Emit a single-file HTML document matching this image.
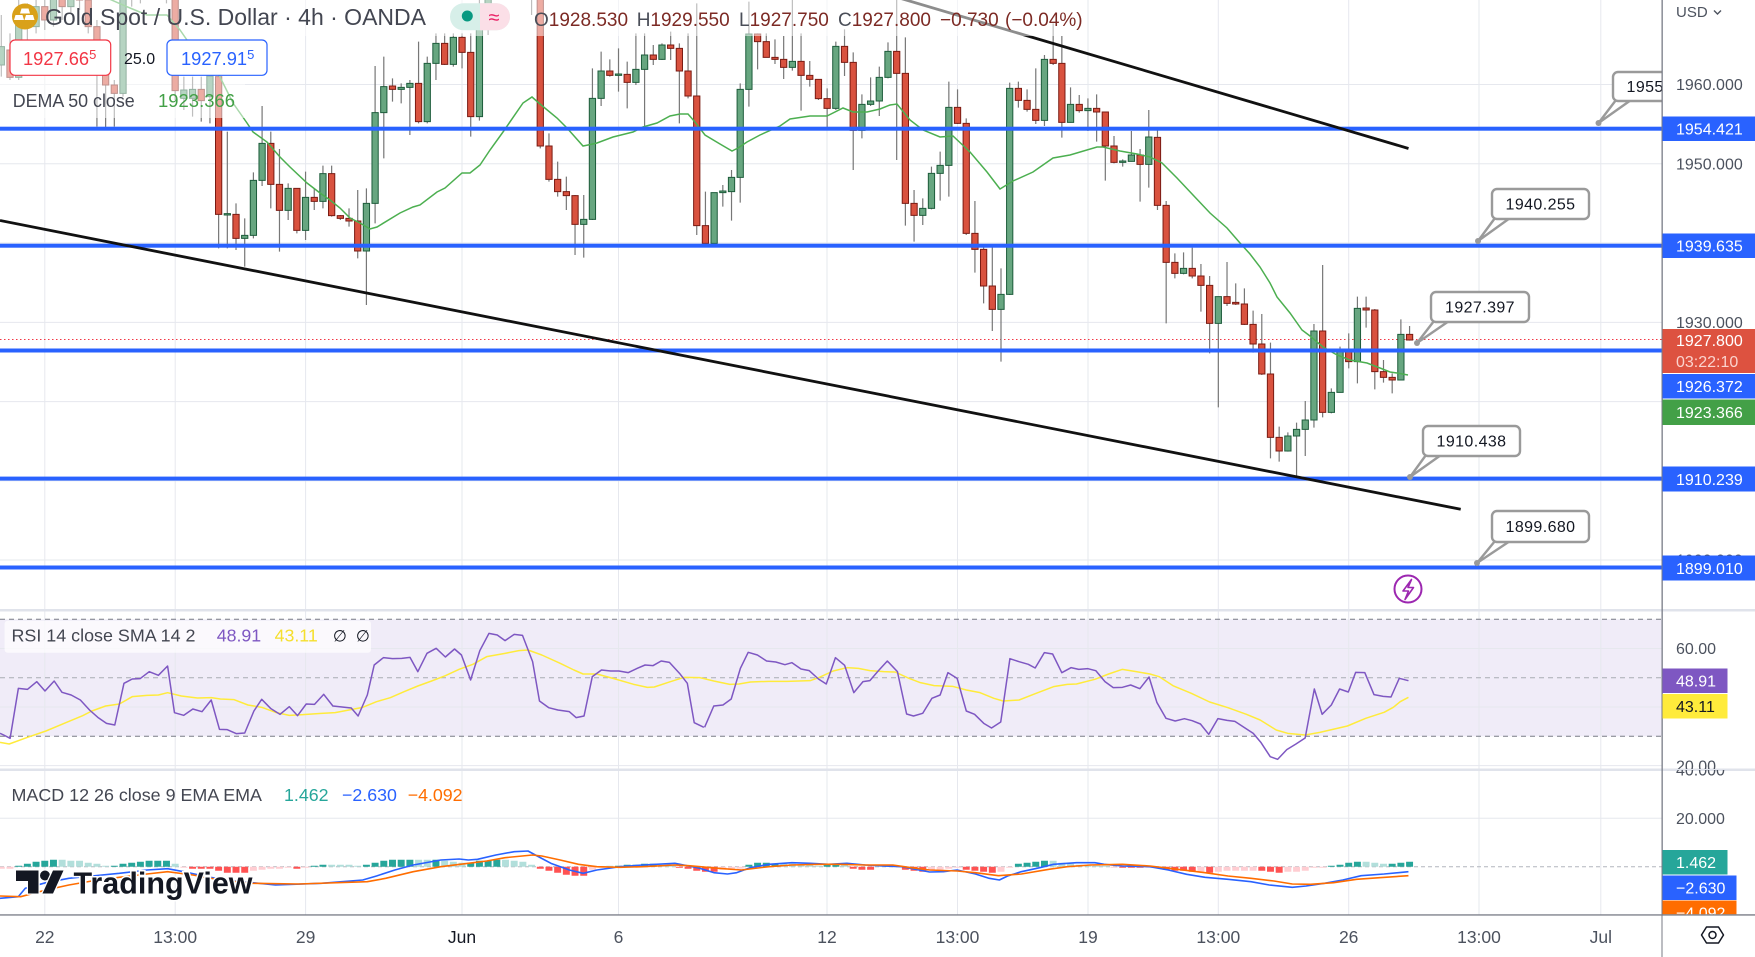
<!DOCTYPE html>
<html><head><meta charset="utf-8">
<style>
html,body{margin:0;padding:0;background:#fff;}
svg{display:block;font-family:"Liberation Sans",sans-serif;}
.ns{vector-effect:non-scaling-stroke}
</style></head><body>
<svg width="1755" height="957" viewBox="0 0 1755 957" xmlns="http://www.w3.org/2000/svg">
<defs>
<clipPath id="cRsiAx"><rect x="1662" y="610" width="93" height="159"/></clipPath>
<clipPath id="cMacdAx"><rect x="1662" y="770" width="93" height="145"/></clipPath>
</defs>
<rect width="1755" height="957" fill="#fff"/>
<!-- RSI band -->
<rect x="0" y="619.3" width="1662" height="117" fill="#f0ecf8"/>
<!-- grid -->
<g stroke="#e6e8ee" stroke-width="1">
<path d="M0 84.5H1662M0 163.8H1662M0 243H1662M0 322.4H1662M0 401.6H1662M0 480.8H1662M0 560H1662"/>
<path d="M0 648.5H1662M0 707H1662M0 765.6H1662M0 818.3H1662"/>
<path d="M44.8 0V915M175.2 0V915M305.6 0V915M462 0V915M618.5 0V915M827 0V915M957.5 0V915M1088 0V915M1218.3 0V915M1348.7 0V915M1479 0V915M1600.8 0V915"/>
</g>
<!-- RSI dashed levels -->
<path d="M0 619.3H1662M0 736.3H1662" stroke="#787b86" stroke-width="1" stroke-dasharray="5 4"/>
<path d="M0 677.8H1662" stroke="#a8abb3" stroke-width="1" stroke-dasharray="5 4"/>
<!-- MACD zero -->
<path d="M0 866.7H1662" stroke="#b2b5be" stroke-width="1" stroke-dasharray="4 3"/>
<!-- separators -->
<rect x="0" y="609" width="1755" height="2.5" fill="#e0e3eb"/>
<rect x="0" y="768.5" width="1755" height="2.5" fill="#e0e3eb"/>

<!-- red dotted price line -->
<path d="M0 339.5H1662" stroke="#f23645" stroke-width="1" stroke-dasharray="1.5 2.5"/>

<!-- candles -->
<g transform="translate(44.77,0) scale(8.693,0.333333)">
<path class="ns" fill="none" stroke="#777" stroke-width="1.2" d="M-5 45V230M-4 100V240M-3 0V240M-2 10V120M-1 0V100M0 -10V90M1 -40V80M2 -50V60M3 -80V40M4 -60V30M5 -20V100M6 60V380M7 200V388M8 240V380M9 -60V290M10 -80V20M11 -120V10M12 -110V0M13 -130V-20M14 -120V10M15 -40V300M16 230V330M17 230V350M18 230V365M19 200V370M20 225V745M21 395V745M22 610V750M23 655V800M24 517V715M25 318V558M26 395V625M27 447V755M28 550V660M29 565V700M30 515V720M31 565V630M32 497V625M33 497V650M34 645V660M35 625V680M36 570V775M37 565V915M38 198V670M39 170V475M40 235V305M41 250V310M42 240V405M43 125V370M44 170V370M45 100V240M46 100V195M47 100V200M48 100V205M49 100V410M50 -20V362M51 -100V105M52 -120V-20M53 -140V-30M54 -130V-10M55 -60V0M56 -40V45M57 -20V445M58 400V545M59 485V590M60 530V630M61 585V765M62 585V773M63 205V660M64 155V318M65 178V230M66 145V275M67 185V325M68 100V255M69 100V385M70 135V195M71 130V180M72 95V180M73 130V370M74 100V295M75 10V705M76 575V730M77 578V730M78 555V620M79 510V662M80 250V608M81 5V320M82 100V208M83 100V172M84 118V192M85 108V237M86 0V212M87 100V332M88 183V260M89 238V300M90 265V390M91 125V330M92 88V228M93 157V510M94 283V415M95 232V318M96 200V348M97 127V235M98 0V480M99 112V677M100 570V725M101 595V675M102 500V628M103 455V602M104 245V590M105 268V372M106 355V705M107 603V818M108 735V910M109 735V993M110 805V1085M111 248V885M112 245V323M113 268V335M114 205V372M115 165V378M116 70V195M117 108V413M118 262V368M119 285V338M120 295V393M121 283V425M122 336V542M123 408V490M124 478V500M125 393V485M126 447V605M127 330V563M128 388V630M129 603V970M130 760V835M131 757V823M132 743V835M133 792V935M134 828V1060M135 890V1222M136 786V918M137 850V915M138 865V975M139 932V1058M140 942V1125M141 1028V1375M142 1280V1385M143 1297V1355M144 1268V1435M145 1203V1368M146 972V1283M147 795V1252M148 1165V1240M149 1040V1178M150 1000V1105M151 890V1150M152 890V983M153 927V1168M154 1080V1148M155 1120V1180M156 958V1140M157 978V1022"/>
<path class="ns" fill="#67a680" stroke="#1d5c3b" stroke-width="1" d="M-5.36 140h.72v55h-.72zM-3.36 40h.72v192h-.72zM-1.36 20h.72v60h-.72zM.64 -10h.72v70h-.72zM2.64 -40h.72v60h-.72zM8.64 -40h.72v320h-.72zM10.64 -90h.72v80h-.72zM12.64 -100h.72v60h-.72zM15.64 270h.72v25h-.72zM16.64 268h.72v27h-.72zM18.64 228h.72v62h-.72zM20.64 641h.72v4h-.72zM22.64 706h.72v9h-.72zM23.64 541h.72v165h-.72zM24.64 430h.72v111h-.72zM27.64 565h.72v66h-.72zM29.64 592h.72v99h-.72zM31.64 521h.72v83h-.72zM36.64 610h.72v143h-.72zM37.64 338h.72v272h-.72zM38.64 260h.72v78h-.72zM40.64 262h.72v6h-.72zM41.64 250h.72v12h-.72zM43.64 190h.72v175h-.72zM44.64 130h.72v60h-.72zM46.64 112h.72v81h-.72zM49.64 55h.72v295h-.72zM50.64 -60h.72v115h-.72zM52.64 -110h.72v60h-.72zM61.64 658h.72v15h-.72zM62.64 295h.72v363h-.72zM63.64 213h.72v82h-.72zM65.64 222h.72v4h-.72zM67.64 208h.72v39h-.72zM68.64 165h.72v43h-.72zM70.64 135h.72v43h-.72zM76.64 578h.72v152h-.72zM77.64 573h.72v5h-.72zM78.64 532h.72v43h-.72zM79.64 268h.72v264h-.72zM80.64 102h.72v166h-.72zM85.64 184h.72v18h-.72zM90.64 139h.72v186h-.72zM93.64 313h.72v78h-.72zM94.64 303h.72v10h-.72zM95.64 232h.72v71h-.72zM96.64 154h.72v78h-.72zM100.64 625h.72v21h-.72zM101.64 520h.72v105h-.72zM102.64 496h.72v24h-.72zM103.64 322h.72v174h-.72zM109.64 883h.72v45h-.72zM110.64 265h.72v618h-.72zM114.64 178h.72v183h-.72zM117.64 313h.72v54h-.72zM119.64 325h.72v7h-.72zM123.64 483h.72v4h-.72zM124.64 465h.72v19h-.72zM126.64 411h.72v82h-.72zM130.64 805h.72v15h-.72zM134.64 890h.72v80h-.72zM142.64 1308h.72v45h-.72zM143.64 1288h.72v20h-.72zM144.64 1260h.72v28h-.72zM145.64 993h.72v267h-.72zM147.64 1177h.72v60h-.72zM148.64 1050h.72v127h-.72zM150.64 925h.72v160h-.72zM155.64 1003h.72v137h-.72z"/>
<path class="ns" fill="#d9523f" stroke="#7a1b13" stroke-width="1" d="M-4.36 150h.72v82h-.72zM-2.36 40h.72v40h-.72zM-.36 20h.72v40h-.72zM1.64 -10h.72v30h-.72zM3.64 -40h.72v40h-.72zM4.64 0h.72v80h-.72zM5.64 80h.72v145h-.72zM6.64 225h.72v30h-.72zM7.64 255h.72v25h-.72zM9.64 -40h.72v30h-.72zM11.64 -90h.72v50h-.72zM13.64 -100h.72v80h-.72zM14.64 -20h.72v292h-.72zM17.64 268h.72v34h-.72zM19.64 230h.72v413h-.72zM21.64 643h.72v72h-.72zM25.64 430h.72v123h-.72zM26.64 553h.72v78h-.72zM28.64 565h.72v126h-.72zM30.64 592h.72v12h-.72zM32.64 521h.72v126h-.72zM33.64 647h.72v8h-.72zM34.64 655h.72v8h-.72zM35.64 663h.72v90h-.72zM39.64 258h.72v10h-.72zM42.64 250h.72v115h-.72zM45.64 130h.72v63h-.72zM47.64 112h.72v45h-.72zM48.64 157h.72v193h-.72zM51.64 -90h.72v40h-.72zM53.64 -110h.72v70h-.72zM54.64 -40h.72v30h-.72zM55.64 -20h.72v15h-.72zM56.64 -5h.72v443h-.72zM57.64 438h.72v100h-.72zM58.64 538h.72v37h-.72zM59.64 575h.72v12h-.72zM60.64 587h.72v86h-.72zM64.64 213h.72v13h-.72zM66.64 223h.72v24h-.72zM69.64 165h.72v13h-.72zM71.64 135h.72v10h-.72zM72.64 145h.72v68h-.72zM73.64 213h.72v75h-.72zM74.64 288h.72v389h-.72zM75.64 677h.72v53h-.72zM81.64 102h.72v23h-.72zM82.64 125h.72v47h-.72zM83.64 172h.72v6h-.72zM84.64 178h.72v24h-.72zM86.64 184h.72v42h-.72zM87.64 226h.72v12h-.72zM88.64 238h.72v58h-.72zM89.64 296h.72v29h-.72zM91.64 139h.72v48h-.72zM92.64 187h.72v204h-.72zM97.64 154h.72v66h-.72zM98.64 220h.72v390h-.72zM99.64 610h.72v36h-.72zM104.64 322h.72v48h-.72zM105.64 370h.72v330h-.72zM106.64 700h.72v48h-.72zM107.64 748h.72v110h-.72zM108.64 858h.72v70h-.72zM111.64 265h.72v36h-.72zM112.64 301h.72v27h-.72zM113.64 328h.72v33h-.72zM115.64 178h.72v12h-.72zM116.64 190h.72v177h-.72zM118.64 313h.72v19h-.72zM120.64 325h.72v11h-.72zM121.64 336h.72v102h-.72zM122.64 438h.72v49h-.72zM125.64 465h.72v28h-.72zM127.64 412h.72v204h-.72zM128.64 616h.72v171h-.72zM129.64 787h.72v33h-.72zM131.64 805h.72v23h-.72zM132.64 828h.72v28h-.72zM133.64 856h.72v114h-.72zM135.64 890h.72v20h-.72zM136.64 907h.72v5h-.72zM137.64 912h.72v61h-.72zM138.64 973h.72v59h-.72zM139.64 1032h.72v90h-.72zM140.64 1122h.72v190h-.72zM141.64 1312h.72v41h-.72zM146.64 993h.72v244h-.72zM149.64 1050h.72v35h-.72zM151.64 924h.72v6h-.72zM152.64 930h.72v185h-.72zM153.64 1115h.72v17h-.72zM154.64 1132h.72v8h-.72zM156.64 1003h.72v17h-.72z"/>
</g>

<!-- DEMA -->
<polyline fill="none" stroke="#4caf50" stroke-width="1.5" points="100,-5 130,8 147,15 167,15 180,30 187,40 213,63 220,77 233,103 247,123 253,132 267,142 280,157 290,167 307,183 320,193 330,200 340,208 350,218 360,223 370,229 377,227 400,213 413,207 420,205 437,192 445,188 462,173 470,173 480,165 490,150 503,132 523,103 532,97 540,104 557,118 567,128 583,146 588,145 597,143 613,137 633,132 643,127 657,123 670,116 680,114 688,114 695,122 705,135 720,144 732,151 738,148 747,142 760,135 780,126 790,119 810,116 827,116 843,108 853,112 867,112 880,109 890,105 897,104 910,120 923,130 940,137 953,136 970,152 987,172 1000,189 1013,181 1033,172 1053,158 1070,155 1097,147 1103,147 1120,151 1137,154 1150,157 1162,163 1177,178 1193,195 1210,213 1227,228 1240,243 1250,254 1260,267 1270,283 1277,297 1290,313 1302,330 1310,336 1323,347 1337,355 1350,360 1367,363 1380,368 1390,372 1397,373 1408,375"/>

<!-- blue horizontal levels -->
<g fill="#2962ff">
<rect x="0" y="126.7" width="1662" height="4"/>
<rect x="0" y="243.7" width="1662" height="4"/>
<rect x="0" y="348.5" width="1662" height="4"/>
<rect x="0" y="476.6" width="1662" height="4"/>
<rect x="0" y="565.5" width="1662" height="4"/>
</g>
<!-- trendlines -->
<line x1="880" y1="-7.7" x2="1408.5" y2="148.5" stroke="#111" stroke-width="2.8"/>
<line x1="0" y1="220.5" x2="1460.7" y2="509.3" stroke="#111" stroke-width="2.8"/>

<!-- callouts -->
<g stroke="#9a9a9a" stroke-width="2.4" fill="#fff" stroke-linejoin="round">
<polygon points="1616,100 1598.5,123 1631,100"/>
<rect x="1613" y="72" width="97" height="29" rx="5"/>
<polygon points="1495,218 1478,241 1510,218"/>
<rect x="1492" y="189" width="97" height="30" rx="5"/>
<polygon points="1434,321 1417,343 1449,321"/>
<rect x="1431" y="292" width="98" height="30" rx="5"/>
<polygon points="1426,455 1410,477 1441,455"/>
<rect x="1423" y="426" width="97" height="30" rx="5"/>
<polygon points="1495,541 1477,563 1510,541"/>
<rect x="1492" y="511" width="97" height="31" rx="5"/>
</g>
<g fill="#9a9a9a">
<circle cx="1598.5" cy="123" r="3"/><circle cx="1478" cy="241" r="3"/><circle cx="1417" cy="343" r="3"/><circle cx="1410" cy="477" r="3"/><circle cx="1477" cy="563" r="3"/>
</g>
<g font-size="16" fill="#131722" text-anchor="middle" letter-spacing="0.4">
<text x="1661.5" y="92">1955.000</text>
<text x="1540.5" y="209.5">1940.255</text>
<text x="1480" y="312.5">1927.397</text>
<text x="1471.5" y="446.5">1910.438</text>
<text x="1540.5" y="532">1899.680</text>
</g>

<!-- lightning icon -->
<circle cx="1408" cy="589" r="13.5" fill="#fff" stroke="#9c27b0" stroke-width="2"/>
<path d="M1411.5 579.5L1403 591H1408.5L1405 599.5L1413.5 587.5H1408Z" fill="none" stroke="#9c27b0" stroke-width="1.6" stroke-linejoin="round"/>

<!-- RSI lines -->
<g fill="none" stroke-width="1.5" stroke-linejoin="round">
<polyline class="ns" stroke="#ffeb3b" transform="translate(0,600) scale(0.45914,0.333333)" points="0,427 20,432 60,412 100,393 140,370 180,347 200,333 230,318 260,312 288,290 320,286 345,285 365,278 395,288 430,294 460,293 480,297 510,299 540,315 570,322 600,337 630,346 660,344 700,340 730,338 760,330 790,322 820,305 850,293 880,275 910,258 940,243 970,227 1000,208 1030,193 1060,170 1100,160 1130,152 1150,150 1180,165 1220,190 1250,210 1270,222 1300,222 1340,237 1380,253 1410,262 1425,261 1460,245 1490,232 1525,233"/>
<polyline class="ns" stroke="#ffeb3b" transform="translate(700,600) scale(0.45914,0.333333)" points="0,233 30,243 65,253 85,252 110,246 150,244 190,244 240,242 260,232 290,213 320,203 345,205 370,212 400,215 425,216 455,235 480,248 510,257 550,259 580,270 610,278 640,295 660,303 695,300 730,281 770,260 800,253 820,252 860,238 890,222 920,208 950,215 980,222 1000,230 1030,257 1070,280 1110,306 1150,323 1190,343 1220,360 1255,390 1280,400 1318,405 1350,397 1410,378 1450,355 1490,337 1510,322 1525,305 1543,292"/>
<polyline class="ns" stroke="#7e57c2" transform="translate(0,600) scale(0.45914,0.333333)" points="0,400 8,405 22,415 40,265 60,268 80,245 98,273 118,243 135,277 155,285 175,300 195,330 213,352 232,370 250,375 270,250 288,237 305,236 325,215 345,226 365,198 380,338 400,346 420,327 440,335 460,300 478,388 495,389 515,401 533,399 553,333 570,298 590,326 610,343 630,320 648,347 667,312 685,313 705,283 725,318 745,321 765,324 780,348 800,285 815,195 835,173 855,176 875,175 893,172 910,215 930,160 950,145 970,171 990,147 1005,165 1025,240 1045,152 1065,100 1083,105 1100,122 1120,103 1138,106 1160,185 1175,303 1195,323 1215,330 1240,335 1255,353 1272,348 1290,230 1310,210 1330,213 1348,213 1368,218 1388,205 1405,195 1422,197 1440,183 1458,187 1480,220 1497,250 1512,368 1533,382"/>
<polyline class="ns" stroke="#7e57c2" transform="translate(700,600) scale(0.45914,0.333333)" points="10,382 30,318 50,315 68,297 88,205 105,157 125,165 145,183 165,186 185,194 200,188 220,207 238,212 258,237 275,252 295,173 315,196 335,278 355,245 370,242 388,213 408,183 430,215 450,342 465,348 485,340 505,295 523,285 540,218 560,235 580,333 598,343 618,370 635,384 655,366 675,176 695,185 715,193 730,204 750,158 768,162 788,218 808,203 825,208 845,206 862,212 882,245 900,263 920,262 938,255 958,266 978,231 995,307 1015,355 1035,363 1055,356 1072,362 1090,372 1108,403 1128,356 1148,361 1165,364 1185,382 1205,400 1222,428 1242,470 1258,478 1278,449 1298,432 1318,414 1338,267 1355,343 1375,315 1393,267 1412,276 1428,217 1448,218 1468,284 1488,289 1505,291 1523,235 1543,242"/>
</g>

<!-- MACD histogram -->
<g transform="translate(44.77,866.7) scale(8.693,1)">
<path fill="#26a69a" d="M-3.4 0h.8v-1h-.8zM-2.4 0h.8v-3h-.8zM-1.4 0h.8v-5h-.8zM-.4 0h.8v-6h-.8zM.6 0h.8v-7h-.8zM7.6 0h.8v-1h-.8zM8.6 0h.8v-3h-.8zM9.6 0h.8v-4h-.8zM10.6 0h.8v-5h-.8zM11.6 0h.8v-6h-.8zM12.6 0h.8v-6h-.8zM13.6 0h.8v-6h-.8zM30.6 0h.8v-1h-.8zM31.6 0h.8v-2h-.8zM36.6 0h.8v-2h-.8zM37.6 0h.8v-4h-.8zM38.6 0h.8v-6h-.8zM39.6 0h.8v-7h-.8zM40.6 0h.8v-7h-.8zM41.6 0h.8v-7h-.8zM44.6 0h.8v-7h-.8zM48.6 0h.8v-4h-.8zM49.6 0h.8v-6h-.8zM50.6 0h.8v-6h-.8zM51.6 0h.8v-7h-.8zM65.6 0h.8v-1h-.8zM66.6 0h.8v-2h-.8zM67.6 0h.8v-2h-.8zM68.6 0h.8v-3h-.8zM69.6 0h.8v-3h-.8zM80.6 0h.8v-2h-.8zM81.6 0h.8v-4h-.8zM82.6 0h.8v-4h-.8zM83.6 0h.8v-3h-.8zM89.6 0h.8v-2h-.8zM90.6 0h.8v-3h-.8zM96.6 0h.8v-2h-.8zM111.6 0h.8v-3h-.8zM112.6 0h.8v-4h-.8zM113.6 0h.8v-5h-.8zM114.6 0h.8v-6h-.8zM147.6 0h.8v-1h-.8zM148.6 0h.8v-2h-.8zM149.6 0h.8v-4h-.8zM150.6 0h.8v-5h-.8zM154.6 0h.8v-3h-.8zM155.6 0h.8v-4h-.8zM156.6 0h.8v-5h-.8z"/>
<path fill="#b2dfdb" d="M1.6 0h.8v-7h-.8zM2.6 0h.8v-6h-.8zM3.6 0h.8v-6h-.8zM4.6 0h.8v-4h-.8zM5.6 0h.8v-3h-.8zM6.6 0h.8v-1h-.8zM14.6 0h.8v-3h-.8zM32.6 0h.8v-2h-.8zM33.6 0h.8v-2h-.8zM34.6 0h.8v-2h-.8zM35.6 0h.8v-1h-.8zM42.6 0h.8v-7h-.8zM43.6 0h.8v-7h-.8zM45.6 0h.8v-6h-.8zM46.6 0h.8v-5h-.8zM47.6 0h.8v-4h-.8zM52.6 0h.8v-7h-.8zM53.6 0h.8v-6h-.8zM54.6 0h.8v-5h-.8zM55.6 0h.8v-2h-.8zM64.6 0h.8v-1h-.8zM70.6 0h.8v-2h-.8zM71.6 0h.8v-1h-.8zM84.6 0h.8v-3h-.8zM85.6 0h.8v-3h-.8zM86.6 0h.8v-2h-.8zM87.6 0h.8v-2h-.8zM88.6 0h.8v-1h-.8zM91.6 0h.8v-2h-.8zM95.6 0h.8v-2h-.8zM97.6 0h.8v-1h-.8zM115.6 0h.8v-6h-.8zM116.6 0h.8v-4h-.8zM117.6 0h.8v-3h-.8zM118.6 0h.8v-2h-.8zM119.6 0h.8v-1h-.8zM120.6 0h.8v-1h-.8zM121.6 0h.8v-1h-.8zM151.6 0h.8v-5h-.8zM152.6 0h.8v-4h-.8zM153.6 0h.8v-3h-.8z"/>
<path fill="#ff5252" d="M16.6 0h.8v2h-.8zM17.6 0h.8v2h-.8zM18.6 0h.8v2h-.8zM19.6 0h.8v4h-.8zM20.6 0h.8v6h-.8zM21.6 0h.8v6h-.8zM22.6 0h.8v6h-.8zM28.6 0h.8v2h-.8zM56.6 0h.8v2h-.8zM57.6 0h.8v4h-.8zM58.6 0h.8v6h-.8zM59.6 0h.8v8h-.8zM60.6 0h.8v9h-.8zM61.6 0h.8v9h-.8zM72.6 0h.8v1h-.8zM73.6 0h.8v2h-.8zM74.6 0h.8v4h-.8zM75.6 0h.8v5h-.8zM76.6 0h.8v5h-.8zM92.6 0h.8v2h-.8zM93.6 0h.8v3h-.8zM94.6 0h.8v3h-.8zM98.6 0h.8v3h-.8zM99.6 0h.8v4h-.8zM100.6 0h.8v5h-.8zM105.6 0h.8v3h-.8zM106.6 0h.8v4h-.8zM107.6 0h.8v5h-.8zM108.6 0h.8v6h-.8zM123.6 0h.8v1h-.8zM124.6 0h.8v1h-.8zM125.6 0h.8v1h-.8zM127.6 0h.8v1h-.8zM128.6 0h.8v3h-.8zM129.6 0h.8v4h-.8zM130.6 0h.8v4h-.8zM131.6 0h.8v5h-.8zM133.6 0h.8v6h-.8zM139.6 0h.8v4h-.8zM140.6 0h.8v5h-.8zM141.6 0h.8v6h-.8z"/>
<path fill="#ffcdd2" d="M-5.4 0h.8v2h-.8zM-4.4 0h.8v2h-.8zM15.6 0h.8v1h-.8zM23.6 0h.8v4h-.8zM24.6 0h.8v3h-.8zM25.6 0h.8v2h-.8zM26.6 0h.8v2h-.8zM27.6 0h.8v1h-.8zM29.6 0h.8v1h-.8zM62.6 0h.8v3h-.8zM63.6 0h.8v1h-.8zM77.6 0h.8v3h-.8zM78.6 0h.8v3h-.8zM79.6 0h.8v2h-.8zM101.6 0h.8v3h-.8zM102.6 0h.8v3h-.8zM103.6 0h.8v2h-.8zM104.6 0h.8v1h-.8zM109.6 0h.8v5h-.8zM110.6 0h.8v1h-.8zM122.6 0h.8v1h-.8zM126.6 0h.8v1h-.8zM132.6 0h.8v5h-.8zM134.6 0h.8v5h-.8zM135.6 0h.8v4h-.8zM136.6 0h.8v4h-.8zM137.6 0h.8v4h-.8zM138.6 0h.8v4h-.8zM142.6 0h.8v5h-.8zM143.6 0h.8v5h-.8zM144.6 0h.8v4h-.8zM145.6 0h.8v1h-.8zM146.6 0h.8v1h-.8z"/>
</g>
<!-- MACD lines -->
<g fill="none" stroke-width="1.6" stroke-linejoin="round">
<polyline class="ns" stroke="#2962ff" transform="translate(0,770) scale(0.45914,0.333333)" points="0,385 40,380 55,355 100,338 150,325 200,318 260,310 320,300 365,296 400,305 450,320 500,332 550,338 600,345 700,340 790,330 820,318 860,300 900,285 960,270 1000,267 1020,270 1040,268 1080,255 1120,245 1150,243 1170,258 1200,280 1240,300 1270,310 1300,300 1350,290 1400,285 1470,280 1500,288 1525,295"/>
<polyline class="ns" stroke="#2962ff" transform="translate(700,770) scale(0.45914,0.333333)" points="0,295 30,308 60,312 80,308 110,293 150,283 200,278 240,280 280,283 320,280 360,285 400,288 440,290 470,298 500,306 530,305 560,300 600,312 630,325 652,330 670,318 700,305 740,293 770,283 820,278 860,278 880,283 920,288 980,290 1020,300 1060,313 1100,322 1150,328 1200,335 1240,345 1290,352 1320,348 1360,340 1400,330 1440,317 1490,312 1543,305"/>
<polyline class="ns" stroke="#ff6d00" transform="translate(0,770) scale(0.45914,0.333333)" points="0,378 45,380 100,360 150,345 200,333 260,322 320,312 365,305 420,315 480,330 550,340 650,342 800,335 840,325 900,305 960,290 1020,280 1060,273 1100,263 1160,255 1180,258 1220,270 1260,283 1300,290 1350,292 1400,290 1470,285 1500,287 1525,290"/>
<polyline class="ns" stroke="#ff6d00" transform="translate(700,770) scale(0.45914,0.333333)" points="0,290 40,295 90,300 150,290 200,285 260,283 300,283 360,285 420,285 460,293 500,300 560,303 600,308 650,317 700,312 760,298 800,290 850,285 920,283 980,288 1040,298 1100,308 1150,318 1200,325 1250,333 1290,342 1330,343 1380,338 1430,328 1480,323 1543,317"/>
</g>

<!-- legend fade overlays -->
<g fill="#fff" opacity="0.52">
<rect x="0" y="0" width="1085" height="36"/>
<rect x="0" y="36" width="272" height="42"/>
<rect x="0" y="78" width="245" height="40"/>
</g>

<!-- main legend -->
<circle cx="25" cy="16.5" r="13" fill="#d9a11a"/>
<g fill="#fff">
<path d="M21.5 8.5h7l1.5 5h-10z"/>
<path d="M15.5 15h7l1.5 5h-10z"/>
<path d="M26 15h7l1.5 5h-10z"/>
</g>
<text x="45" y="25" font-size="23" fill="#434651" textLength="381" lengthAdjust="spacingAndGlyphs">Gold Spot / U.S. Dollar · 4h · OANDA</text>
<rect x="450" y="3.3" width="60" height="27" rx="13.5" fill="#d7efe9"/>
<path d="M480 3.3h16.5a13.5 13.5 0 0 1 0 27H480z" fill="#fbdfe7"/>
<circle cx="467.3" cy="16" r="5.5" fill="#089981"/>
<text x="494" y="24" font-size="20" fill="#e91e63" text-anchor="middle">≈</text>
<g font-size="19">
<text x="534" y="26" fill="#4a4e58">O<tspan fill="#7c2a24">1928.530</tspan></text>
<text x="636.7" y="26" fill="#4a4e58">H<tspan fill="#7c2a24">1929.550</tspan></text>
<text x="739" y="26" fill="#4a4e58">L<tspan fill="#7c2a24">1927.750</tspan></text>
<text x="838" y="26" fill="#4a4e58">C<tspan fill="#7c2a24">1927.800</tspan></text>
<text x="940" y="26" fill="#7c2a24">−0.730</text>
<text x="1005" y="26" fill="#7c2a24">(−0.04%)</text>
</g>
<rect x="10" y="40" width="100.7" height="35.3" rx="5" fill="#fff" stroke="#f23645" stroke-width="1.2"/>
<text x="23" y="65" font-size="18.3" fill="#f23645">1927.66<tspan font-size="13" dy="-6">5</tspan></text>
<text x="124" y="64" font-size="16" fill="#131722">25.0</text>
<rect x="167" y="40" width="100" height="35.3" rx="5" fill="#fff" stroke="#2962ff" stroke-width="1.2"/>
<text x="181" y="65" font-size="18.3" fill="#2962ff">1927.91<tspan font-size="13" dy="-6">5</tspan></text>
<text x="12.7" y="107" font-size="18" fill="#434651" textLength="122" lengthAdjust="spacingAndGlyphs">DEMA 50 close</text>
<text x="158" y="107" font-size="18" fill="#43a047" textLength="77" lengthAdjust="spacingAndGlyphs">1923.366</text>

<!-- RSI legend -->
<rect x="4.6" y="620.7" width="366.4" height="32" rx="3" fill="#fff" opacity="0.7"/>
<g font-size="17.8">
<text x="11.5" y="641.5" fill="#434651" textLength="184" lengthAdjust="spacingAndGlyphs">RSI 14 close SMA 14 2</text>
<text x="216.7" y="641.5" fill="#7e57c2">48.91</text>
<text x="274.6" y="641.5" fill="#f5df2e">43.11</text>
<text x="333" y="641.5" fill="#131722" font-family="DejaVu Sans, sans-serif" font-size="16">∅</text>
<text x="356" y="641.5" fill="#131722" font-family="DejaVu Sans, sans-serif" font-size="16">∅</text>
</g>
<!-- MACD legend -->
<g font-size="17.8">
<text x="11.5" y="801" fill="#434651" textLength="250.5" lengthAdjust="spacingAndGlyphs">MACD 12 26 close 9 EMA EMA</text>
<text x="284" y="801" fill="#26a69a">1.462</text>
<text x="342" y="801" fill="#2962ff">−2.630</text>
<text x="407.7" y="801" fill="#ff6d00">−4.092</text>
</g>

<!-- TradingView logo -->
<g fill="#131722" stroke="#fff" stroke-width="2.5" paint-order="stroke">
<path d="M16 870.5H38.5V893.5H28V881H16Z"/>
<circle cx="45" cy="875.5" r="5"/>
<path d="M53 870.5H63.5L53 893.5H42.5Z"/>
<text x="73.5" y="893.5" font-size="31" font-weight="bold" textLength="179" lengthAdjust="spacingAndGlyphs" stroke-width="3">TradingView</text>
</g>

<!-- time axis -->
<rect x="0" y="915" width="1755" height="42" fill="#fff"/>
<rect x="0" y="914.3" width="1755" height="1.3" fill="#787b86"/>
<g font-size="17.5" fill="#4c525e" text-anchor="middle">
<text x="44.8" y="943">22</text>
<text x="175.2" y="943">13:00</text>
<text x="305.6" y="943">29</text>
<text x="462" y="943" fill="#131722">Jun</text>
<text x="618.5" y="943">6</text>
<text x="827" y="943">12</text>
<text x="957.5" y="943">13:00</text>
<text x="1088" y="943">19</text>
<text x="1218.3" y="943">13:00</text>
<text x="1348.7" y="943">26</text>
<text x="1479" y="943">13:00</text>
<text x="1600.8" y="943">Jul</text>
</g>

<!-- price axis -->
<rect x="1662.5" y="0" width="92.5" height="608.5" fill="#fff"/>
<rect x="1662.5" y="611.5" width="92.5" height="157" fill="#fff"/>
<rect x="1662.5" y="771" width="92.5" height="143.3" fill="#fff"/>
<rect x="1661.5" y="0" width="1.3" height="957" fill="#787b86"/>
<text x="1676" y="17" font-size="15" fill="#4c525e">USD</text>
<path d="M1714 10.5l3.5 3.5 3.5-3.5" fill="none" stroke="#4c525e" stroke-width="1.4"/>
<g font-size="16" fill="#4c525e">
<text x="1676" y="90.2">1960.000</text>
<text x="1676" y="169.5">1950.000</text>
<text x="1676" y="328.1">1930.000</text>
<text x="1676" y="565.7">1900.000</text>
<text x="1676" y="654.2">60.00</text>
<text x="1676" y="771.3" clip-path="url(#cRsiAx)">20.00</text>
<text x="1676" y="775.7" clip-path="url(#cMacdAx)">40.000</text>
<text x="1676" y="824">20.000</text>
</g>
<!-- colored price labels -->
<rect x="1662.5" y="116.5" width="92.5" height="24.5" fill="#2962ff"/>
<rect x="1662.5" y="233.5" width="92.5" height="24.5" fill="#2962ff"/>
<rect x="1662.5" y="329" width="92.5" height="44" fill="#dd5240"/>
<rect x="1662.5" y="374" width="92.5" height="24.5" fill="#2962ff"/>
<rect x="1662.5" y="399.5" width="92.5" height="25.5" fill="#43a047"/>
<rect x="1662.5" y="466.5" width="92.5" height="25" fill="#2962ff"/>
<rect x="1662.5" y="555.5" width="92.5" height="25" fill="#2962ff"/>
<rect x="1662.5" y="668.5" width="65" height="24.5" fill="#7e57c2"/>
<rect x="1662.5" y="694" width="65" height="24.5" fill="#ffeb3b"/>
<rect x="1662.5" y="850" width="65" height="24.5" fill="#26a69a"/>
<rect x="1662.5" y="875.5" width="74" height="24.5" fill="#2962ff"/>
<rect x="1662.5" y="900.5" width="74" height="13.8" fill="#ff6d00"/>
<g font-size="16" fill="#fff">
<text x="1676" y="134.5">1954.421</text>
<text x="1676" y="251.5">1939.635</text>
<text x="1676" y="346">1927.800</text>
<text x="1676" y="367" fill="#fbd3cd">03:22:10</text>
<text x="1676" y="392">1926.372</text>
<text x="1676" y="418">1923.366</text>
<text x="1676" y="484.8">1910.239</text>
<text x="1676" y="573.8">1899.010</text>
<text x="1676" y="686.5">48.91</text>
<text x="1676" y="712" fill="#131722">43.11</text>
<text x="1676" y="868">1.462</text>
<text x="1676" y="893.5">−2.630</text>
<text x="1676" y="918.5">−4.092</text>
</g>
<rect x="1662.5" y="915.6" width="92.5" height="41.4" fill="#fff"/>
<rect x="1662.5" y="914.3" width="92.5" height="1.3" fill="#787b86"/>
<!-- settings icon -->
<path d="M1701.5 935l5-8h12l5 8-5 8h-12z" fill="none" stroke="#131722" stroke-width="1.5" stroke-linejoin="round"/>
<circle cx="1712.5" cy="935" r="3.5" fill="none" stroke="#131722" stroke-width="1.5"/>
</svg>
</body></html>
